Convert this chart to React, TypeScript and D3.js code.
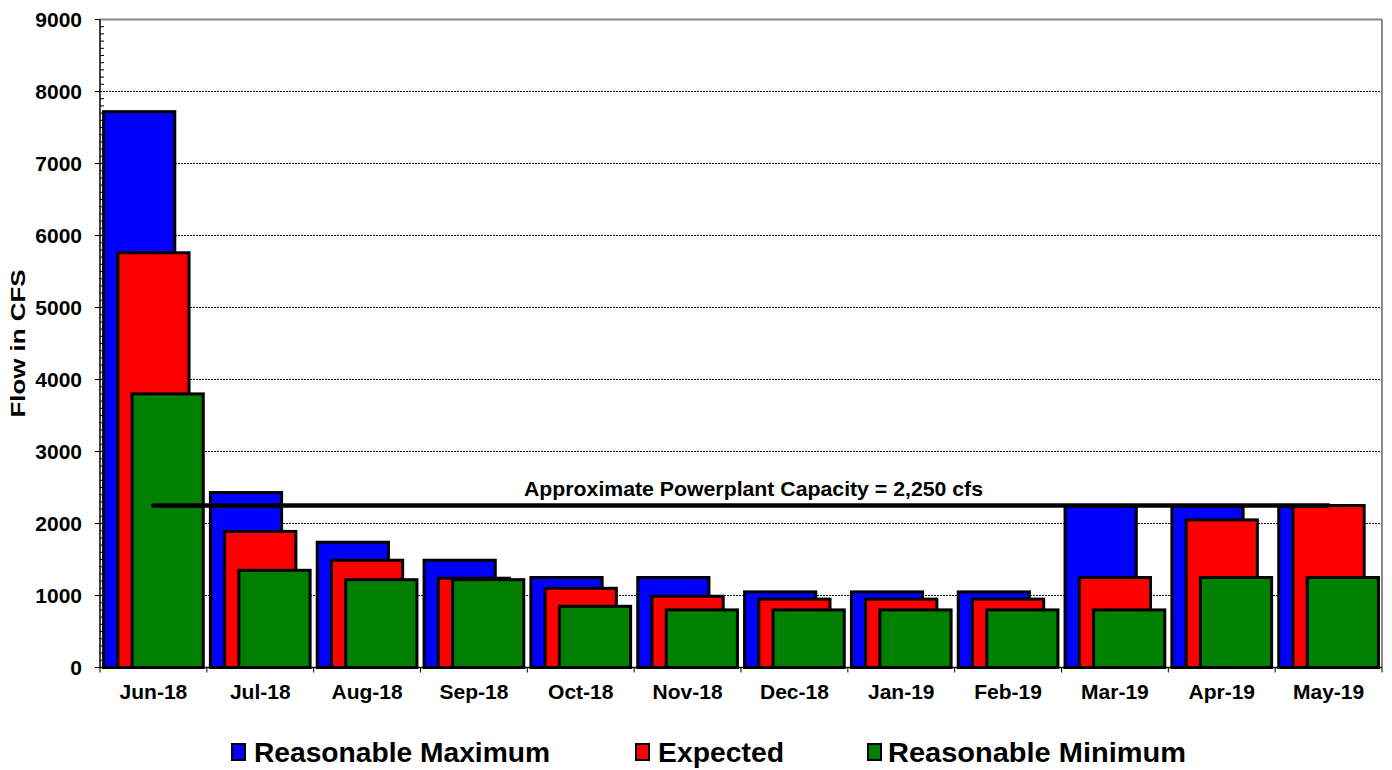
import React from "react";
import * as d3 from "d3";

const categories = ["Jun-18", "Jul-18", "Aug-18", "Sep-18", "Oct-18", "Nov-18", "Dec-18", "Jan-19", "Feb-19", "Mar-19", "Apr-19", "May-19"];
const reasonableMaximum = [7720, 2430, 1740, 1490, 1250, 1250, 1050, 1050, 1050, 2250, 2250, 2250];
const expected = [5760, 1890, 1490, 1240, 1100, 990, 950, 950, 950, 1250, 2050, 2250];
const reasonableMinimum = [3800, 1350, 1220, 1220, 850, 800, 800, 800, 800, 800, 1250, 1250];
const capacityValue = 2250;
const capacityLabel = "Approximate Powerplant Capacity = 2,250 cfs";
const yTicks = [0, 1000, 2000, 3000, 4000, 5000, 6000, 7000, 8000, 9000];
const seriesNames = ["Reasonable Maximum", "Expected", "Reasonable Minimum"];
const seriesColors = ["#0000FF", "#FF0000", "#008000"];

const W = 1392;
const H = 770;
const left = 100;
const right = 1382;
const top = 19.5;
const bottom = 667.5;
const FONT = "Arial, 'Liberation Sans', Helvetica, sans-serif";

export default function App() {
  const x = d3.scaleBand<string>().domain(categories).range([left, right]).paddingInner(0).paddingOuter(0);
  const y = d3.scaleLinear().domain([0, 9000]).range([bottom, top]);
  const band = x.bandwidth();
  // Excel-like: gap width 10%, overlap 80%
  const barW = band / 1.5;
  const step = barW * 0.2;
  const off = barW * 0.05;
  const series = [reasonableMaximum, expected, reasonableMinimum];
  const minorTicks = d3.range(0, 9001, 100).filter((v) => v % 1000 !== 0);

  const lineGen = d3
    .line<number>()
    .x((_, i) => (x(categories[i]) as number) + band / 2)
    .y((v) => y(v));
  const capData = categories.map(() => capacityValue);

  return (
    <svg width={W} height={H} style={{ position: "absolute", left: 0, top: 0, background: "#fff" }} fontFamily={FONT}>
      <rect x={0} y={0} width={W} height={H} fill="#fff" />
      {/* gridlines */}
      {yTicks.filter((t) => t > 0 && t < 9000).map((t) => (
        <line key={"g" + t} x1={left} x2={right} y1={y(t)} y2={y(t)} stroke="#111" strokeWidth={1} strokeDasharray="2,1" />
      ))}
      {/* plot border top/right */}
      <line x1={left} x2={right} y1={y(9000)} y2={y(9000)} stroke="#8a8a8a" strokeWidth={2} />
      <line x1={right} x2={right} y1={y(9000)} y2={bottom} stroke="#8a8a8a" strokeWidth={2} />

      {/* bars */}
      {categories.map((c, i) => (
        <g key={c}>
          {series.map((s, k) => (
            <rect
              key={k}
              x={(x(c) as number) + off + k * step}
              y={y(s[i])}
              width={barW}
              height={bottom - y(s[i])}
              fill={seriesColors[k]}
              stroke="#000"
              strokeWidth={3}
            />
          ))}
        </g>
      ))}

      {/* axes */}
      <line x1={left} x2={left} y1={top} y2={bottom} stroke="#000" strokeWidth={1.5} />
      <line x1={left} x2={right} y1={bottom} y2={bottom} stroke="#000" strokeWidth={1.5} />
      {minorTicks.map((t) => (
        <line key={"m" + t} x1={left} x2={left + 4} y1={y(t)} y2={y(t)} stroke="#000" strokeWidth={1} />
      ))}
      {yTicks.map((t) => (
        <g key={"t" + t}>
          <line x1={left - 5} x2={left} y1={y(t)} y2={y(t)} stroke="#000" strokeWidth={1} />
          <text x={82} y={y(t)} dy="0.36em" textAnchor="end" fontSize={21} fontWeight="bold" fill="#000">
            {t}
          </text>
        </g>
      ))}
      {categories.map((c) => (
        <line key={"xt" + c} x1={x(c) as number} x2={x(c) as number} y1={bottom} y2={bottom + 5} stroke="#000" strokeWidth={1} />
      ))}
      <line x1={right} x2={right} y1={bottom} y2={bottom + 5} stroke="#000" strokeWidth={1} />
      {categories.map((c) => (
        <text key={"xl" + c} x={(x(c) as number) + band / 2} y={699} textAnchor="middle" fontSize={21} fontWeight="bold" fill="#000">
          {c}
        </text>
      ))}

      {/* capacity line */}
      <path d={lineGen(capData) || ""} fill="none" stroke="#000" strokeWidth={4.5} strokeLinecap="round" />
      <text x={524} y={496} fontSize={21} fontWeight="bold" fill="#000" textLength={459} lengthAdjust="spacingAndGlyphs">
        {capacityLabel}
      </text>

      {/* y title */}
      <text
        transform={`translate(25, ${(top + bottom) / 2}) rotate(-90)`}
        textAnchor="middle"
        fontSize={21}
        fontWeight="bold"
        fill="#000"
        textLength={148}
        lengthAdjust="spacingAndGlyphs"
      >
        Flow in CFS
      </text>

      {/* legend */}
      {[
        { sx: 232, tx: 254, tl: 296 },
        { sx: 636, tx: 658, tl: 126 },
        { sx: 868, tx: 888, tl: 298 },
      ].map((p, k) => (
        <g key={"lg" + k}>
          <rect x={p.sx} y={744} width={13} height={16} fill={seriesColors[k]} stroke="#000" strokeWidth={2} />
          <text x={p.tx} y={762} fontSize={28} fontWeight="bold" fill="#000" textLength={p.tl} lengthAdjust="spacingAndGlyphs">
            {seriesNames[k]}
          </text>
        </g>
      ))}
    </svg>
  );
}
